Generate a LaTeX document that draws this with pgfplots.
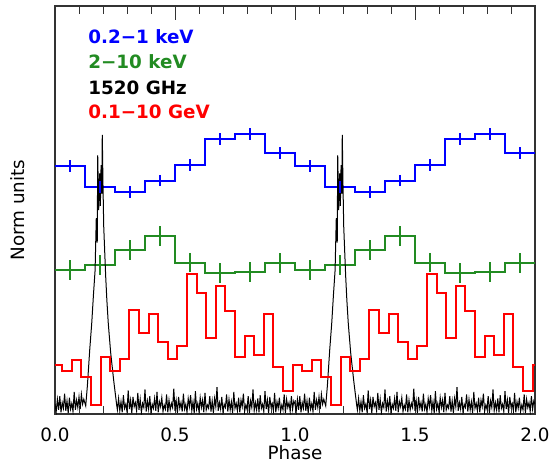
\documentclass[border=0pt]{standalone}
\usepackage{fontspec}
\setmainfont{DejaVu Sans}
\usepackage{pgfplots}
\pgfplotsset{compat=1.18}
\usepackage{pgfplotstable}
\definecolor{myblue}{RGB}{0,0,255}
\definecolor{mygreen}{RGB}{34,139,34}
\definecolor{myred}{RGB}{255,0,0}

\pgfplotstableread{
x y
0.000 0.12
0.005 0.03
0.010 0.18
0.015 0.05
0.020 0.22
0.025 0.02
0.030 0.14
0.035 0.07
0.040 0.25
0.045 0.04
0.050 0.16
0.055 0.01
0.060 0.20
0.065 0.06
0.070 0.13
0.075 0.03
0.080 0.27
0.085 0.05
0.090 0.17
0.095 0.08
0.100 0.21
0.105 0.06
0.110 0.24
0.115 0.12
0.120 0.18
0.128 0.10
0.135 0.35
0.145 0.80
0.153 1.11
0.160 1.45
0.167 1.76
0.172 2.40
0.176 2.10
0.178 3.17
0.182 2.50
0.186 2.95
0.189 2.55
0.192 3.05
0.195 2.70
0.197 3.42
0.200 2.80
0.203 2.30
0.207 2.00
0.211 1.70
0.216 1.40
0.222 1.11
0.232 0.75
0.245 0.40
0.257 0.11
0.260 0.05
0.265 0.19
0.270 0.04
0.275 0.15
0.280 0.02
0.285 0.23
0.290 0.07
0.295 0.12
0.300 0.03
0.305 0.29
0.310 0.06
0.315 0.17
0.320 0.01
0.325 0.21
0.330 0.09
0.335 0.14
0.340 0.04
0.345 0.26
0.350 0.05
0.355 0.18
0.360 0.02
0.365 0.13
0.370 0.08
0.375 0.30
0.380 0.03
0.385 0.16
0.390 0.06
0.395 0.22
0.400 0.01
0.405 0.12
0.410 0.07
0.415 0.19
0.420 0.04
0.425 0.27
0.430 0.02
0.435 0.15
0.440 0.09
0.445 0.20
0.450 0.03
0.455 0.11
0.460 0.06
0.465 0.24
0.470 0.02
0.475 0.17
0.480 0.05
0.485 0.13
0.490 0.08
0.495 0.31
0.500 0.04
0.505 0.16
0.510 0.01
0.515 0.21
0.520 0.07
0.525 0.14
0.530 0.03
0.535 0.25
0.540 0.06
0.545 0.12
0.550 0.02
0.555 0.19
0.560 0.09
0.565 0.23
0.570 0.04
0.575 0.15
0.580 0.01
0.585 0.28
0.590 0.06
0.595 0.13
0.600 0.03
0.605 0.20
0.610 0.08
0.615 0.17
0.620 0.02
0.625 0.26
0.630 0.05
0.635 0.11
0.640 0.07
0.645 0.22
0.650 0.03
0.655 0.16
0.660 0.01
0.665 0.19
0.670 0.09
0.675 0.33
0.680 0.04
0.685 0.14
0.690 0.06
0.695 0.21
0.700 0.02
0.705 0.12
0.710 0.08
0.715 0.24
0.720 0.03
0.725 0.18
0.730 0.05
0.735 0.15
0.740 0.01
0.745 0.27
0.750 0.07
0.755 0.13
0.760 0.04
0.765 0.20
0.770 0.02
0.775 0.17
0.780 0.09
0.785 0.25
0.790 0.03
0.795 0.11
0.800 0.06
0.805 0.22
0.810 0.01
0.815 0.16
0.820 0.08
0.825 0.30
0.830 0.04
0.835 0.14
0.840 0.05
0.845 0.19
0.850 0.02
0.855 0.23
0.860 0.07
0.865 0.12
0.870 0.03
0.875 0.28
0.880 0.06
0.885 0.17
0.890 0.01
0.895 0.21
0.900 0.09
0.905 0.13
0.910 0.04
0.915 0.26
0.920 0.02
0.925 0.15
0.930 0.07
0.935 0.20
0.940 0.03
0.945 0.11
0.950 0.05
0.955 0.24
0.960 0.01
0.965 0.18
0.970 0.08
0.975 0.14
0.980 0.03
0.985 0.22
0.990 0.06
0.995 0.16
1.000 0.12
}\radio

\begin{document}
\begin{tikzpicture}[font=\fontsize{11}{13}\selectfont]
\useasboundingbox (-33pt,-31.2pt) rectangle (296.4pt,248.4pt);
\begin{axis}[
  scale only axis, width=288pt, height=244.8pt,
  xmin=0, xmax=2, ymin=0, ymax=5,
  xtick={0,0.5,1,1.5,2}, minor x tick num=4,
  ytick=\empty, minor ytick={1,2,3,4},
  major tick length=8.5pt, minor tick length=5pt,
  tick align=inside,
  tick style={black!80, line width=0.6pt},
  axis line style={black!80, line width=0.8pt},
  xticklabel style={/pgf/number format/fixed, /pgf/number format/fixed zerofill, /pgf/number format/precision=1, yshift=-4.9pt},
  /pgf/number format/assume math mode=true,
  xlabel={Phase}, ylabel={Norm units},
  xlabel style={at={(axis description cs:0.5,-0.0956)}, anchor=center},
  ylabel style={at={(axis description cs:-0.078,0.5)}, anchor=center},
  clip=true,
]
% 0.2-1 keV
\addplot[myblue, line width=1.2pt, const plot] coordinates {
(0,3.04)(0.125,2.78)(0.25,2.72)(0.375,2.86)(0.5,3.05)(0.625,3.37)(0.75,3.43)(0.875,3.20)
(1,3.04)(1.125,2.78)(1.25,2.72)(1.375,2.86)(1.5,3.05)(1.625,3.37)(1.75,3.43)(1.875,3.20)(2,3.20)};
% error bars (half length 0.07 units = 3.4pt)
\addplot[myblue, only marks, mark=|, mark size=3.4pt, mark options={line width=1.2pt}] coordinates {
(0.0625,3.04)(0.1875,2.78)(0.3125,2.72)(0.4375,2.86)
(0.5625,3.05)(0.6875,3.37)(0.8125,3.43)(0.9375,3.20)
(1.0625,3.04)(1.1875,2.78)(1.3125,2.72)(1.4375,2.86)
(1.5625,3.05)(1.6875,3.37)(1.8125,3.43)(1.9375,3.20)};
% 2-10 keV
\addplot[mygreen, line width=1.2pt, const plot] coordinates {
(0,1.765)(0.125,1.826)(0.25,2.01)(0.375,2.18)(0.5,1.855)(0.625,1.724)(0.75,1.737)(0.875,1.847)
(1,1.765)(1.125,1.826)(1.25,2.01)(1.375,2.18)(1.5,1.855)(1.625,1.724)(1.75,1.737)(1.875,1.847)(2,1.847)};
% error bars (half length 0.12 units = 5.9pt)
\addplot[mygreen, only marks, mark=|, mark size=5.9pt, mark options={line width=1.2pt}] coordinates {
(0.0625,1.765)(0.1875,1.826)(0.3125,2.01)(0.4375,2.18)
(0.5625,1.855)(0.6875,1.724)(0.8125,1.737)(0.9375,1.847)
(1.0625,1.765)(1.1875,1.826)(1.3125,2.01)(1.4375,2.18)
(1.5625,1.855)(1.6875,1.724)(1.8125,1.737)(1.9375,1.847)};
% 1520 GHz
\addplot[black, line width=0.6pt] table[x=x, y=y] {\radio};
\addplot[black, line width=0.6pt] table[x expr=\thisrow{x}+1, y=y] {\radio};
% 0.1-10 GeV
\addplot[myred, line width=1.2pt, const plot] coordinates {
(0,0.60)(0.03,0.53)(0.07,0.66)(0.11,0.457)(0.15,0.107)(0.19,0.70)(0.23,0.53)(0.27,0.68)(0.31,1.27)(0.35,0.99)
(0.39,1.23)(0.43,0.88)(0.47,0.68)(0.51,0.83)(0.55,1.71)(0.59,1.48)(0.63,0.935)(0.67,1.57)(0.71,1.26)(0.75,0.695)
(0.79,0.956)(0.83,0.72)(0.87,1.23)(0.91,0.57)(0.95,0.28)(0.99,0.60)
(1.03,0.53)(1.07,0.66)(1.11,0.457)(1.15,0.107)(1.19,0.70)(1.23,0.53)(1.27,0.68)(1.31,1.27)(1.35,0.99)
(1.39,1.23)(1.43,0.88)(1.47,0.68)(1.51,0.83)(1.55,1.71)(1.59,1.48)(1.63,0.935)(1.67,1.57)(1.71,1.26)(1.75,0.695)
(1.79,0.956)(1.83,0.72)(1.87,1.23)(1.91,0.57)(1.95,0.28)(1.99,0.60)(2,0.60)};
% labels
\node[anchor=base west, inner sep=0, text=myblue, font=\fontsize{11}{13}\selectfont\bfseries] at (axis cs:0.1375,4.54) {0.2−1 keV};
\node[anchor=base west, inner sep=0, text=mygreen, font=\fontsize{11}{13}\selectfont\bfseries] at (axis cs:0.1375,4.23) {2−10 keV};
\node[anchor=base west, inner sep=0, text=black, font=\fontsize{11}{13}\selectfont\bfseries] at (axis cs:0.1375,3.92) {1520 GHz};
\node[anchor=base west, inner sep=0, text=myred, font=\fontsize{11}{13}\selectfont\bfseries] at (axis cs:0.1375,3.62) {0.1−10 GeV};
\end{axis}
\end{tikzpicture}
\end{document}
